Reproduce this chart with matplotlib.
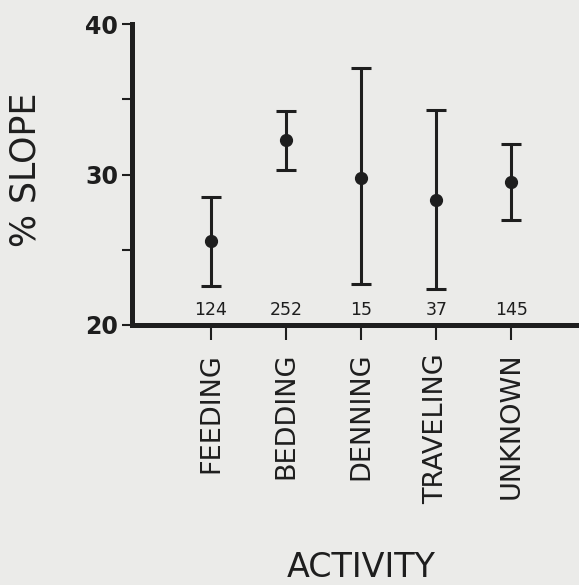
import matplotlib
matplotlib.use('Agg')
import matplotlib.pyplot as plt
import numpy as np

# activity categories and % slope summary (mean with range bars)
activities = ['FEEDING', 'BEDDING', 'DENNING', 'TRAVELING', 'UNKNOWN']
mean_slope = [25.6, 32.3, 29.8, 28.3, 29.5]
upper_slope = [28.5, 34.2, 37.1, 34.3, 32.0]
lower_slope = [22.6, 30.3, 22.7, 22.4, 27.0]
sample_n = [124, 252, 15, 37, 145]

ink = '#1e1e1e'
paper = '#ebebe9'

fig = plt.figure(figsize=(5.79, 5.85), dpi=100, facecolor=paper)
ax = fig.add_axes([132 / 579, 260 / 585, 1 - 132 / 579, 301 / 585], facecolor=paper)

x = np.arange(len(activities))
mean = np.array(mean_slope)
yerr = [mean - np.array(lower_slope), np.array(upper_slope) - mean]
ax.errorbar(x, mean, yerr=yerr, fmt='o', color=ink, ms=8.5, lw=2.2,
            capsize=7, capthick=2.2, zorder=3)

# sample sizes just above the x axis
for xi, n in zip(x, sample_n):
    ax.text(xi, 21.0, str(n), ha='center', va='center', fontsize=12.5,
            color=ink)

ax.set_xlim(-1.05, 4.9)
ax.set_ylim(20, 40)
ax.set_yticks([20, 30, 40])
ax.set_yticks([25, 35], minor=True)
ax.set_yticklabels(['20', '30', '40'], fontsize=17, fontweight='bold', color=ink)
ax.set_xticks(x)
ax.set_xticklabels(activities, rotation=90, fontsize=19.5, color=ink)

for side in ['top', 'right']:
    ax.spines[side].set_visible(False)
for side in ['left', 'bottom']:
    ax.spines[side].set_linewidth(3.6)
    ax.spines[side].set_color(ink)
    ax.spines[side].set_capstyle('projecting')

ax.tick_params(axis='y', which='both', length=7, width=1.5, color=ink, pad=3)
ax.tick_params(axis='x', length=11, width=1.5, color=ink, pad=9)

fig.text(25 / 579, 1 - 170 / 585, '% SLOPE', rotation=90, ha='center',
         va='center', fontsize=25, color=ink)
fig.text(361 / 579, 1 / 585, 'ACTIVITY', ha='center', va='bottom',
         fontsize=24, color=ink)

fig.savefig('out.png', dpi=100, facecolor=paper)
